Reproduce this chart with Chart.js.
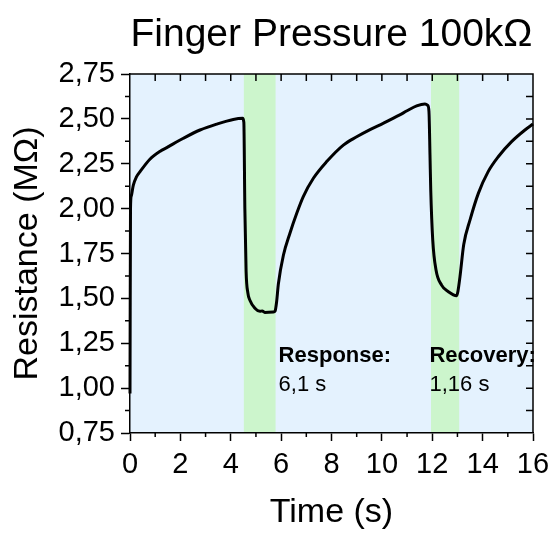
<!DOCTYPE html>
<html>
<head>
<meta charset="utf-8">
<script src="https://cdn.jsdelivr.net/npm/chart.js@4.4.1/dist/chart.umd.min.js"></script>
<style>
  html, body { margin: 0; padding: 0; background: #fff; }
  #wrap { width: 552px; height: 533px; }
</style>
</head>
<body>
<div id="wrap"><canvas id="pressure-chart"></canvas></div>
<script>
// Resistance trace over time (s, MΩ)
const timeS = [
    0, 0.02, 0.05, 0.13, 0.25, 0.4, 0.79, 1.2, 1.46, 2.12, 2.78, 3.44, 4.1, 4.47,
    4.52, 4.56, 4.61, 4.68, 4.76, 4.96, 5.16, 5.25, 5.35, 5.69, 5.76, 5.82,
    5.89, 6.09, 6.35, 6.62, 6.88, 7.28, 7.81, 8.47, 9.0, 9.53, 10.05, 10.71,
    11.0, 11.38, 11.71, 11.82, 11.87, 11.91, 11.94, 12.02, 12.15, 12.37, 12.64, 12.97,
    13.02, 13.1, 13.25, 13.5, 13.83, 14.22, 14.62, 15.15, 15.68, 16,
];
const resistanceMOhm = [
    0.97, 2.0, 2.07, 2.13, 2.175, 2.206, 2.275, 2.32, 2.34, 2.392, 2.438, 2.471, 2.497, 2.503,
    2.48, 2.0, 1.65, 1.53, 1.49, 1.445, 1.428, 1.43, 1.422, 1.424, 1.43, 1.48,
    1.58, 1.74, 1.863, 1.974, 2.067, 2.169, 2.262, 2.354, 2.40, 2.44, 2.475, 2.522,
    2.545, 2.572, 2.583, 2.575, 2.54, 2.3, 2.104, 1.825, 1.658, 1.574, 1.537, 1.515,
    1.54, 1.62, 1.8, 1.937, 2.085, 2.206, 2.289, 2.373, 2.438, 2.471,
];

// Shaded windows: pressure applied / released
const responseWindow = [4.52, 5.78];
const recoveryWindow = [11.95, 13.07];

const xTicks = [0, 2, 4, 6, 8, 10, 12, 14, 16];
const yTicks = [0.75, 1.0, 1.25, 1.5, 1.75, 2.0, 2.25, 2.5, 2.75];

const responseLabel = ["Response:", "6,1 s"];
const recoveryLabel = ["Recovery:", "1,16 s"];

const FONT = '"Liberation Sans", Arial, Helvetica, sans-serif';
const BLUE = "#e4f2fe";
const GREEN = "#ccf5cc";

const fmtComma = (v) => v.toFixed(2).replace(".", ",");

// plot background + highlighted windows
const backdrop = {
    id: "backdrop",
    beforeDraw(chart) {
        const { ctx, chartArea: a, scales: { x } } = chart;
        ctx.save();
        ctx.fillStyle = BLUE;
        ctx.fillRect(a.left, a.top, a.right - a.left, a.bottom - a.top);
        ctx.fillStyle = GREEN;
        [responseWindow, recoveryWindow].forEach(([t0, t1]) => {
            const x0 = x.getPixelForValue(t0);
            const x1 = x.getPixelForValue(t1);
            ctx.fillRect(x0, a.top, x1 - x0, a.bottom - a.top);
        });
        ctx.restore();
    },
};

// frame, minor ticks, inward ticks on top/right, title and notes
const decorations = {
    id: "decorations",
    afterDraw(chart) {
        const { ctx, chartArea: a, scales: { x, y } } = chart;
        ctx.save();
        ctx.strokeStyle = "#000";
        ctx.lineWidth = 1.5;
        ctx.beginPath();
        ctx.moveTo(a.left, a.top);
        ctx.lineTo(a.right, a.top);
        ctx.lineTo(a.right, a.bottom);

        for (let t = 1; t < 16; t += 2) {
            const px = x.getPixelForValue(t);
            ctx.moveTo(px, a.bottom);
            ctx.lineTo(px, a.bottom + 4);
        }
        for (let t = 1; t < 16; t++) {
            const px = x.getPixelForValue(t);
            ctx.moveTo(px, a.top);
            ctx.lineTo(px, a.top + 7);
        }
        for (let v = 0.875; v < 2.75; v += 0.25) {
            const py = y.getPixelForValue(v);
            ctx.moveTo(a.left, py);
            ctx.lineTo(a.left - 5, py);
        }
        for (let v = 0.875; v < 2.75; v += 0.125) {
            const py = y.getPixelForValue(v);
            ctx.moveTo(a.right, py);
            ctx.lineTo(a.right - 7, py);
        }
        ctx.stroke();

        ctx.fillStyle = "#000";
        ctx.textAlign = "center";
        ctx.textBaseline = "alphabetic";
        ctx.font = `39px ${FONT}`;
        ctx.fillText("Finger Pressure 100k\u03A9", (a.left + a.right) / 2, 46);

        ctx.textAlign = "left";
        const notes = [
            [5.9, responseLabel],
            [11.89, recoveryLabel],
        ];
        notes.forEach(([t, [head, value]]) => {
            const px = x.getPixelForValue(t);
            ctx.font = `bold 22px ${FONT}`;
            ctx.fillText(head, px, y.getPixelForValue(1.146));
            ctx.font = `22px ${FONT}`;
            ctx.fillText(value, px, y.getPixelForValue(0.985));
        });
        ctx.restore();
    },
};

const ctx = document.getElementById("pressure-chart");

new Chart(ctx, {
    type: "line",
    data: {
        datasets: [
            {
                data: timeS.map((t, i) => ({ x: t, y: resistanceMOhm[i] })),
                borderColor: "#000",
                borderWidth: 3,
                pointRadius: 0,
                cubicInterpolationMode: "monotone",
                fill: false,
                clip: 4,
            },
        ],
    },
    options: {
        responsive: true,
        maintainAspectRatio: false,
        animation: false,
        layout: { padding: { top: 74, right: 19, left: 0, bottom: 0 } },
        scales: {
            x: {
                type: "linear",
                min: xTicks[0],
                max: xTicks[xTicks.length - 1],
                afterBuildTicks: (scale) => {
                    scale.ticks = xTicks.map((v) => ({ value: v }));
                },
                afterFit: (scale) => {
                    scale.height = 100;
                    // end labels may hang past the frame
                    scale.paddingLeft = 0;
                    scale.paddingRight = 0;
                },
                ticks: {
                    color: "#000",
                    font: { family: FONT, size: 29 },
                    padding: 7,
                    maxRotation: 0,
                },
                grid: {
                    drawOnChartArea: false,
                    tickLength: 8,
                    tickColor: "#000",
                    tickWidth: 1.5,
                },
                border: { color: "#000", width: 1.5 },
                title: {
                    display: true,
                    text: "Time (s)",
                    color: "#000",
                    font: { family: FONT, size: 34 },
                    padding: { top: 0, bottom: 0 },
                },
            },
            y: {
                min: yTicks[0],
                max: yTicks[yTicks.length - 1],
                afterBuildTicks: (scale) => {
                    scale.ticks = yTicks.map((v) => ({ value: v }));
                },
                afterFit: (scale) => {
                    scale.width = 130;
                    scale.paddingTop = 0;
                    scale.paddingBottom = 0;
                },
                ticks: {
                    color: "#000",
                    font: { family: FONT, size: 29 },
                    padding: 6,
                    callback: (v) => fmtComma(v),
                },
                grid: {
                    drawOnChartArea: false,
                    tickLength: 9,
                    tickColor: "#000",
                    tickWidth: 1.5,
                },
                border: { color: "#000", width: 1.5 },
                title: {
                    display: true,
                    text: "Resistance (M\u03A9)",
                    color: "#000",
                    font: { family: FONT, size: 34 },
                    padding: { top: 7, bottom: 0 },
                },
            },
        },
        plugins: {
            legend: { display: false },
            tooltip: { enabled: false },
        },
    },
    plugins: [backdrop, decorations],
});
</script>
</body>
</html>
